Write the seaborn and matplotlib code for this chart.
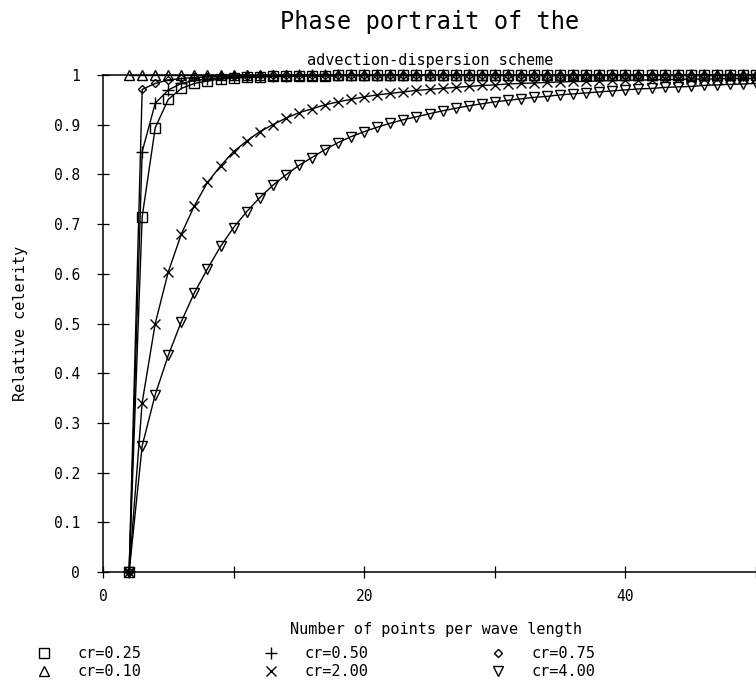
import matplotlib
matplotlib.use("Agg")
import matplotlib.pyplot as plt
from matplotlib.lines import Line2D
import seaborn as sns
import pandas as pd

# ---- data ----
points_per_wave = list(range(2, 51))

cr_025 = [0.000, 0.715, 0.894, 0.951, 0.973, 0.983, 0.988, 0.992, 0.994, 0.995,
          0.996, 0.997, 0.997, 0.998, 0.998, 0.998, 0.999, 0.999, 0.999, 0.999,
          1.000, 1.000, 1.000, 1.000, 1.000, 1.000, 1.000, 1.000, 1.000, 1.000,
          1.000, 1.000, 1.000, 1.000, 1.000, 1.000, 1.000, 1.000, 1.000, 1.000,
          1.000, 1.000, 1.000, 1.000, 1.000, 1.000, 1.000, 1.000, 1.000]
cr_050 = [0.000, 0.846, 0.943, 0.970, 0.983, 0.989, 0.992, 0.994, 0.996, 0.997,
          0.997, 0.998, 0.998, 0.999, 0.999, 0.999, 0.999, 1.000, 1.000, 1.000,
          1.000, 1.000, 1.000, 1.000, 1.000, 1.000, 1.000, 1.000, 1.000, 1.000,
          1.000, 1.000, 1.000, 1.000, 1.000, 1.000, 1.000, 1.000, 1.000, 1.000,
          1.000, 1.000, 1.000, 1.000, 1.000, 1.000, 1.000, 1.000, 1.000]
cr_075 = [0.000, 0.971, 0.983, 0.990, 0.993, 0.995, 0.996, 0.997, 0.998, 0.998,
          0.999, 0.999, 0.999, 1.000, 1.000, 1.000, 1.000, 1.000, 1.000, 1.000,
          1.000, 1.000, 1.000, 1.000, 1.000, 1.000, 1.000, 1.000, 1.000, 1.000,
          1.000, 1.000, 1.000, 1.000, 1.000, 1.000, 1.000, 1.000, 1.000, 1.000,
          1.000, 1.000, 1.000, 1.000, 1.000, 1.000, 1.000, 1.000, 1.000]
cr_010 = [1.000, 1.000, 1.000, 1.000, 1.000, 1.000, 1.000, 1.000, 1.000, 1.000,
          1.000, 1.000, 1.000, 1.000, 1.000, 1.000, 1.000, 1.000, 1.000, 1.000,
          1.000, 1.000, 1.000, 1.000, 1.000, 1.000, 1.000, 1.000, 1.000, 1.000,
          1.000, 1.000, 1.000, 1.000, 1.000, 1.000, 1.000, 1.000, 1.000, 1.000,
          1.000, 1.000, 1.000, 1.000, 1.000, 1.000, 1.000, 1.000, 1.000]
cr_200 = [0.000, 0.341, 0.500, 0.604, 0.680, 0.737, 0.784, 0.817, 0.846, 0.867,
          0.886, 0.900, 0.913, 0.924, 0.932, 0.940, 0.946, 0.951, 0.956, 0.960,
          0.963, 0.966, 0.969, 0.971, 0.973, 0.975, 0.977, 0.979, 0.980, 0.982,
          0.983, 0.984, 0.985, 0.986, 0.987, 0.987, 0.988, 0.989, 0.989, 0.990,
          0.990, 0.991, 0.991, 0.992, 0.992, 0.992, 0.993, 0.993, 0.993]
cr_400 = [0.000, 0.254, 0.357, 0.436, 0.504, 0.562, 0.610, 0.655, 0.693, 0.725,
          0.753, 0.778, 0.799, 0.818, 0.834, 0.850, 0.864, 0.876, 0.886, 0.895,
          0.903, 0.910, 0.916, 0.922, 0.928, 0.933, 0.938, 0.942, 0.946, 0.949,
          0.952, 0.955, 0.957, 0.960, 0.962, 0.964, 0.966, 0.968, 0.970, 0.972,
          0.973, 0.975, 0.976, 0.977, 0.979, 0.980, 0.981, 0.982, 0.983]

series_labels = ["cr=0.25", "cr=0.50", "cr=0.75", "cr=0.10", "cr=2.00", "cr=4.00"]
series_values = [cr_025, cr_050, cr_075, cr_010, cr_200, cr_400]
y_ticks = [0, 0.1, 0.2, 0.3, 0.4, 0.5, 0.6, 0.7, 0.8, 0.9, 1.0]
y_tick_labels = ["0", "0.1", "0.2", "0.3", "0.4", "0.5", "0.6", "0.7", "0.8", "0.9", "1"]
x_major_ticks = [0, 20, 40]
x_minor_ticks = [10, 30, 50]

# ---- styling ----
sns.set_style("white")
FONT = ["DejaVu Sans Mono", "DejaVu Sans"]
plt.rcParams["font.family"] = FONT
plt.rcParams["text.color"] = "black"
plt.rcParams["axes.labelcolor"] = "black"
plt.rcParams["xtick.color"] = "black"
plt.rcParams["ytick.color"] = "black"

marker_styles = {
    "cr=0.25": dict(marker="s", markersize=6.5),
    "cr=0.50": dict(marker="+", markersize=8),
    "cr=0.75": dict(marker="D", markersize=4.5),
    "cr=0.10": dict(marker="^", markersize=7),
    "cr=2.00": dict(marker="x", markersize=7),
    "cr=4.00": dict(marker="v", markersize=7),
}

fig = plt.figure(figsize=(7.56, 6.85), dpi=100)
ax = fig.add_axes([103 / 756, 1 - 572 / 685, 1 - 103 / 756, (572 - 75) / 685])

for lab, vals in zip(series_labels, series_values):
    df = pd.DataFrame({"N": points_per_wave, "c": vals})
    st = marker_styles[lab]
    sns.lineplot(data=df, x="N", y="c", ax=ax, color="black", linewidth=1.0,
                 marker=st["marker"], markersize=st["markersize"],
                 markerfacecolor="none", markeredgecolor="black",
                 markeredgewidth=1.0, clip_on=False, legend=False)

ax.set_xlim(0, 50)
ax.set_ylim(0, 1)
ax.set_xticks(x_major_ticks)
ax.set_xticklabels([str(t) for t in x_major_ticks])
ax.set_xticks(x_minor_ticks, minor=True)
ax.set_yticks(y_ticks)
ax.set_yticklabels(y_tick_labels)

for side in ["left", "bottom", "top"]:
    ax.spines[side].set_visible(True)
    ax.spines[side].set_color("black")
    ax.spines[side].set_linewidth(1.1)
ax.spines["right"].set_visible(False)

ax.tick_params(axis="y", which="major", direction="inout", length=9, width=0.9,
               pad=12, labelsize=10.5, left=True, colors="black")
ax.tick_params(axis="x", which="both", direction="inout", length=9, width=0.9,
               pad=8, labelsize=10.5, bottom=True, colors="black")

ax.set_xlabel("Number of points per wave length", fontsize=11, color="black")
ax.xaxis.set_label_coords(0.51, -0.100)
ax.set_ylabel("Relative celerity", fontsize=11, color="black")
ax.yaxis.set_label_coords(-0.115, 0.5)

fig.text(430 / 756, 1 - 22 / 685, "Phase portrait of the", ha="center",
         va="center", fontsize=17, color="black")
fig.text(430 / 756, 1 - 60 / 685, "advection-dispersion scheme", ha="center",
         va="center", fontsize=11, color="black")

# legend: order so that rows read  sq, +, diamond / tri, x, down-tri
order = ["cr=0.25", "cr=0.10", "cr=0.50", "cr=2.00", "cr=0.75", "cr=4.00"]
handles = []
for lab in order:
    st = marker_styles[lab]
    handles.append(Line2D([], [], linestyle="none", marker=st["marker"],
                          markersize=st["markersize"], markerfacecolor="none",
                          markeredgecolor="black", markeredgewidth=1.0))
leg = fig.legend(handles, order, ncol=3, loc="upper left",
                 bbox_to_anchor=(36 / 756, 1 - 646 / 685), frameon=False,
                 fontsize=11, handlelength=1.0, handletextpad=1.7,
                 columnspacing=8.0, labelspacing=0.2, borderpad=0, borderaxespad=0)
for t in leg.get_texts():
    t.set_color("black")

fig.savefig("out.png", dpi=100)
